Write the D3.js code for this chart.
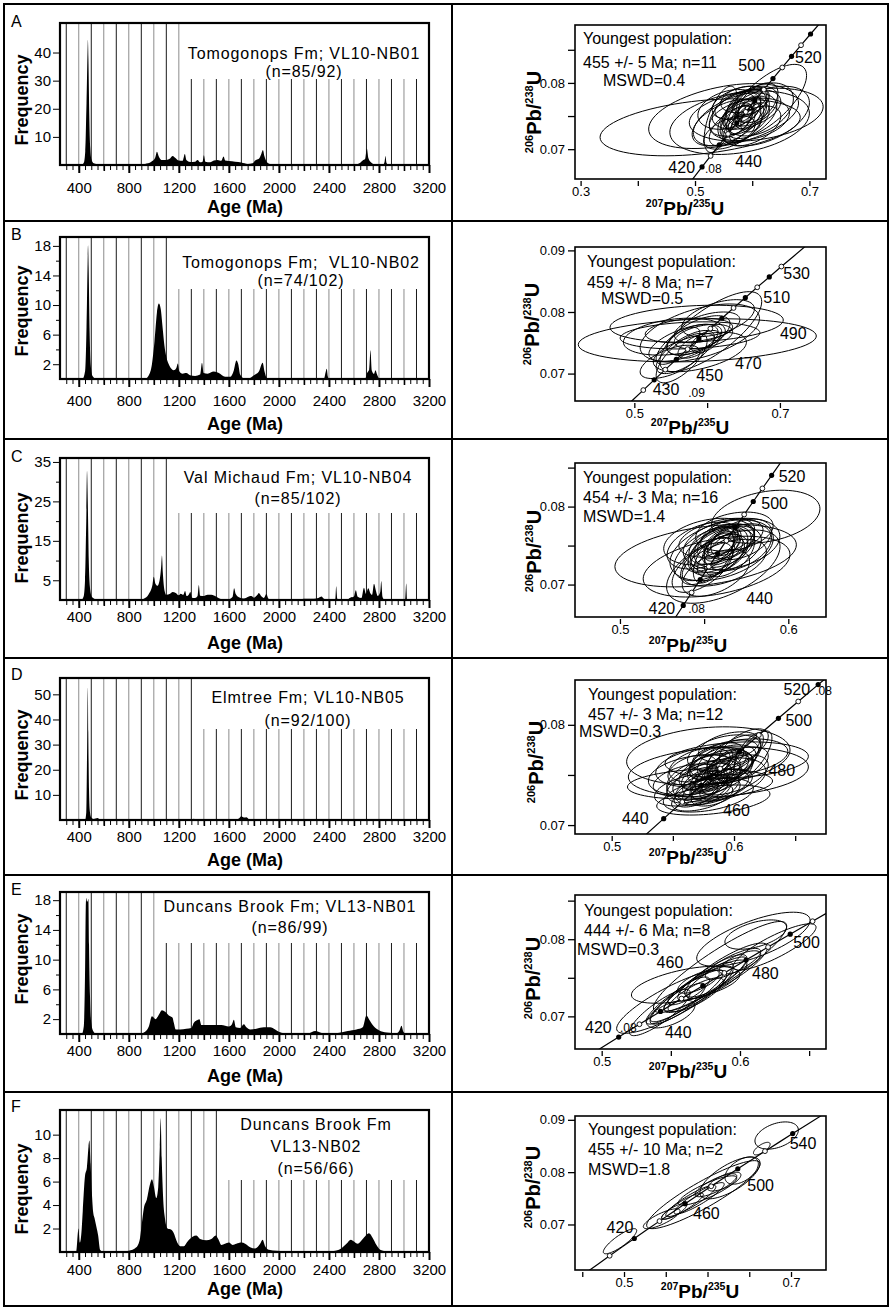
<!DOCTYPE html>
<html>
<head>
<meta charset="utf-8">
<title>Detrital zircon U-Pb ages and concordia diagrams</title>
<script src="https://d3js.org/d3.v7.min.js"></script>
<style>
  body { margin: 0; background: #fff; }
  svg text { font-family: "Liberation Sans", Arial, Helvetica, sans-serif; fill: #000; }
</style>
</head>
<body>
<script>
// ---------------- data: age spectra (left column) ----------------
var panelLetters = ["A", "B", "C", "D", "E", "F"];
var sampleNames = [
  ["Tomogonops Fm; VL10-NB01", "(n=85/92)"],
  ["Tomogonops Fm;  VL10-NB02", "(n=74/102)"],
  ["Val Michaud Fm; VL10-NB04", "(n=85/102)"],
  ["Elmtree Fm; VL10-NB05", "(n=92/100)"],
  ["Duncans Brook Fm; VL13-NB01", "(n=86/99)"],
  ["Duncans Brook Fm", "VL13-NB02", "(n=56/66)"]
];
var ageTicks = [400, 800, 1200, 1600, 2000, 2400, 2800, 3200];
var freqTicks = [[10, 20, 30, 40], [2, 6, 10, 14, 18], [5, 15, 25, 35], [10, 20, 30, 40, 50], [2, 6, 10, 14, 18], [2, 4, 6, 8, 10]];
var freqMinor = [[], [4, 8, 12, 16], [10, 20, 30], [], [4, 8, 12, 16], []];
var freqMax = [50.5, 19.2, 36, 56.5, 19.1, 12.1];
var boxAge = [1200, 1100, 1100, 1300, 1000, 1500];   // last full-height guide line before the label

// probability density curves: [age (Ma), frequency]
var densA = [[250,0],[420,0],[440,0.8],[452,5],[462,22],[470,40],[473,44.5],[477,38],[484,18],[492,6],[502,2],[520,0.6],[560,0.2],[600,0],[880,0],[930,0.4],[980,1.2],[1010,2.5],[1025,4.7],[1040,3],[1060,1.8],[1100,1.8],[1130,2.3],[1150,3.2],[1170,2.6],[1200,1.6],[1230,1.5],[1248,3.9],[1260,1.8],[1290,1.1],[1330,1.2],[1350,1.8],[1370,1.0],[1390,1.2],[1400,3.5],[1412,1.2],[1450,1.0],[1480,1.6],[1510,1.8],[1540,1.5],[1558,3.0],[1570,1.6],[1600,1.4],[1650,1.2],[1700,0.9],[1750,0.4],[1790,0.6],[1810,1.6],[1840,2.2],[1860,4.0],[1872,5.3],[1885,3],[1905,1.0],[1940,0.2],[1990,0],[2600,0],[2640,0.5],[2670,1.6],[2690,2.2],[2703,5.9],[2715,2.5],[2740,0.8],[2770,0.1],[2830,0],[2845,1.2],[2852,3.2],[2860,0.8],[2875,0],[3200,0]];
var densB = [[250,0],[430,0],[450,1],[462,7],[470,15],[474,18.1],[479,15],[486,7],[495,2],[510,0.4],[540,0],[930,0],[960,0.5],[985,2],[1005,5],[1025,9],[1040,10.2],[1055,9.5],[1070,7],[1085,4.5],[1100,3],[1125,1.8],[1160,1.2],[1180,1.5],[1192,2.1],[1205,1.0],[1230,0.7],[1260,0.8],[1290,0.5],[1330,0.4],[1370,0.6],[1385,2.2],[1398,0.8],[1430,0.7],[1480,1.0],[1520,0.8],[1570,0.3],[1610,0.3],[1640,1.2],[1660,2.5],[1675,2.0],[1690,0.6],[1720,0.1],[1760,0.1],[1800,0.5],[1840,1.0],[1870,2.2],[1885,1.0],[1900,0.2],[1920,0],[2360,0],[2375,1.0],[2382,1.4],[2392,0.3],[2400,0],[2690,0],[2705,0.8],[2722,1.3],[2732,3.9],[2742,1.2],[2760,0.7],[2772,1.2],[2785,0.6],[2800,0.1],[2820,0],[3200,0]];
var densC = [[250,0],[420,0],[440,1],[450,5],[460,20],[466,32.7],[472,25],[480,10],[490,3],[505,0.8],[530,0.2],[560,0],[880,0],[920,0.3],[960,1.5],[990,4],[1000,5.9],[1012,4.2],[1030,3.6],[1045,4.8],[1060,9],[1065,11.3],[1072,7],[1085,2.5],[1100,1.3],[1130,1.6],[1150,2.0],[1175,1.8],[1200,1.2],[1215,1.6],[1235,1.3],[1250,2.3],[1262,1.0],[1280,1.4],[1292,2.0],[1305,0.6],[1330,0.5],[1350,1.0],[1360,3.8],[1370,1.1],[1400,1.0],[1430,1.3],[1460,1.3],[1500,0.8],[1540,0.2],[1600,0.2],[1630,0.8],[1642,3.0],[1655,1.5],[1680,0.7],[1720,0.4],[1760,0.9],[1780,1.0],[1800,0.6],[1825,1.2],[1840,1.8],[1858,1.0],[1880,0.5],[1900,1.5],[1915,0.4],[1940,0],[2150,0],[2200,0.3],[2280,0.3],[2320,0.6],[2340,0.9],[2360,0.3],[2390,0],[2450,0],[2458,3.5],[2466,0.4],[2480,0],[2540,0],[2570,0.6],[2600,0.9],[2615,2.5],[2630,0.8],[2660,0.5],[2680,3.1],[2695,1.6],[2715,3.0],[2730,1.8],[2745,1.3],[2760,4.1],[2775,2.4],[2790,1.0],[2810,2.0],[2818,4.8],[2828,0.8],[2845,0],[3010,0],[3018,4.2],[3024,0],[3200,0]];
var densD = [[250,0],[450,0],[460,3],[466,25],[472,52.7],[476,35],[482,12],[490,3],[500,1],[520,0.4],[550,0.8],[570,0.2],[600,0],[690,0.2],[720,0],[1080,0],[1120,0.3],[1150,0],[1300,0],[1320,0.5],[1340,0],[1650,0],[1680,0.6],[1700,1.5],[1720,1.0],[1740,1.1],[1760,0.3],[1780,0],[3200,0]];
var densE = [[250,0],[425,0],[440,1],[450,8],[456,17],[460,18.3],[466,17.8],[472,17.9],[477,18.2],[482,12],[490,5],[500,1.5],[515,0.4],[540,0],[880,0],[930,0.3],[960,1.0],[985,2.4],[1000,2.2],[1015,2.0],[1040,2.6],[1065,3.2],[1090,3.0],[1120,2.5],[1150,2.2],[1160,1.5],[1175,0.6],[1210,0.6],[1260,0.7],[1300,0.8],[1320,1.5],[1340,1.8],[1365,2.0],[1380,1.2],[1420,1.2],[1480,1.2],[1540,1.2],[1600,1.0],[1625,1.3],[1640,1.9],[1655,0.9],[1690,0.8],[1720,1.3],[1740,0.9],[1770,0.6],[1820,0.7],[1880,0.9],[1930,0.9],[1970,0.6],[2000,0.3],[2040,0.1],[2100,0],[2240,0.1],[2290,0.4],[2330,0.2],[2380,0],[2460,0.1],[2550,0.4],[2620,0.6],[2670,0.9],[2700,2.5],[2720,2.0],[2760,1.0],[2800,0.5],[2860,0.2],[2940,0.1],[2965,0.5],[2980,1.1],[2995,0.3],[3020,0],[3200,0]];
var densF = [[250,0],[380,0],[398,2.0],[408,0.8],[420,1.5],[432,3.5],[450,6.5],[465,7.2],[478,9.0],[485,9.5],[495,7.5],[505,5],[515,3.4],[528,2.8],[540,2.2],[555,1.4],[570,0.2],[600,0],[700,0],[800,0.1],[860,0.4],[890,1.2],[905,2.5],[920,3.7],[945,4.5],[970,5.8],[985,6.2],[1000,5.6],[1020,4.6],[1035,5.5],[1048,9],[1055,11.4],[1063,8],[1075,4.5],[1090,2.8],[1110,2.0],[1140,1.9],[1160,1.6],[1180,1.0],[1210,0.5],[1240,0.5],[1270,0.9],[1310,1.3],[1340,1.4],[1370,1.1],[1420,1.0],[1460,1.1],[1495,1.4],[1515,1.1],[1540,0.6],[1570,0.7],[1600,0.8],[1630,0.6],[1660,0.7],[1700,0.8],[1730,0.7],[1770,0.4],[1810,0.3],[1850,0.7],[1870,1.05],[1890,0.5],[1920,0.2],[1980,0.1],[2100,0.05],[2400,0.05],[2480,0.2],[2540,0.7],[2575,1.05],[2600,0.9],[2630,0.7],[2670,1.1],[2720,1.6],[2750,1.2],[2780,0.6],[2810,0.2],[2870,0.05],[2950,0],[3200,0]];
var densities = [densA, densB, densC, densD, densE, densF];

// ---------------- data: concordia diagrams (right column) ----------------
var concAges = [380, 390, 400, 410, 420, 430, 440, 450, 460, 470, 480, 490, 500, 510, 520, 530, 540, 550, 560, 570, 580];
var concX  = [0.4539, 0.4683, 0.4828, 0.4975, 0.5123, 0.5273, 0.5425, 0.5577, 0.5731, 0.5887, 0.6044, 0.6203, 0.6363, 0.6525, 0.6688, 0.6854, 0.7020, 0.7189, 0.7359, 0.7531, 0.7704];
var concY  = [0.06072, 0.06237, 0.06402, 0.06567, 0.06732, 0.06898, 0.07064, 0.07230, 0.07397, 0.07563, 0.07730, 0.07898, 0.08065, 0.08233, 0.08401, 0.08569, 0.08738, 0.08906, 0.09076, 0.09245, 0.09414];
// panel C: concordia as read against that panel's printed 207Pb/235U axis
var concXC = [0.5180, 0.5229, 0.5277, 0.5326, 0.5376, 0.5426, 0.5477, 0.5528, 0.5580, 0.5632, 0.5685, 0.5738, 0.5792, 0.5846, 0.5901, 0.5956, 0.6012, 0.6069, 0.6126, 0.6183, 0.6241];
var concXs = [concX, concX, concXC, concX, concX, concX];

var filledAges = [[420,440,460,480,500,520,540], [430,450,470,490,510,530], [420,440,460,480,500,520], [440,460,480,500,520], [420,440,460,480,500], [420,460,500,540]];
var openAges   = [[430,450,470,490,510,530], [420,440,460,480,500,520,540], [430,450,470,490,510], [450,470,490,510], [430,450,470,490,510], [400,440,480,520]];

var popText = [
  ["Youngest population:", "455 +/- 5 Ma; n=11", "MSWD=0.4"],
  ["Youngest population:", "459 +/- 8 Ma; n=7", "MSWD=0.5"],
  ["Youngest population:", "454 +/- 3 Ma; n=16", "MSWD=1.4"],
  ["Youngest population:", "457 +/- 3 Ma; n=12", "MSWD=0.3"],
  ["Youngest population:", "444 +/- 6 Ma; n=8", "MSWD=0.3"],
  ["Youngest population:", "455 +/- 10 Ma; n=2", "MSWD=1.8"]
];
var ageLabels = [
  [[420,"420"],[420,".08"],[440,"440"],[500,"500"],[520,"520"]],
  [[430,"430"],[430,".09"],[450,"450"],[470,"470"],[490,"490"],[510,"510"],[530,"530"]],
  [[420,"420"],[420,".08"],[440,"440"],[500,"500"],[520,"520"]],
  [[440,"440"],[460,"460"],[480,"480"],[500,"500"],[520,"520"],[520,".08"]],
  [[420,"420"],[420,".08"],[440,"440"],[460,"460"],[480,"480"],[500,"500"]],
  [[420,"420"],[460,"460"],[500,"500"],[540,"540"]]
];

var concXDomain = [[0.2902, 0.729], [0.4185, 0.7633], [0.4733, 0.6224], [0.470, 0.6752], [0.4807, 0.6622], [0.4413, 0.7419]];
var concYDomain = [[0.0655, 0.08874], [0.06555, 0.09055], [0.06584, 0.08559], [0.06911, 0.08447], [0.06577, 0.08573], [0.0613, 0.09073]];
var concXTicks  = [[0.3, 0.4, 0.5, 0.6, 0.7], [0.5, 0.6, 0.7], [0.5, 0.55, 0.6], [0.5, 0.55, 0.6, 0.65], [0.5, 0.55, 0.6, 0.65], [0.45, 0.5, 0.55, 0.6, 0.65, 0.7]];
var concXLabels = [[0.3, 0.5, 0.7], [0.5, 0.7], [0.5, 0.6], [0.5, 0.6], [0.5, 0.6], [0.5, 0.7]];
var concYTicks  = [[0.07, 0.075, 0.08, 0.085], [0.07, 0.08, 0.09], [0.07, 0.075, 0.08, 0.085], [0.07, 0.075, 0.08], [0.07, 0.075, 0.08, 0.085], [0.07, 0.08, 0.09]];
var concYLabels = [[0.07, 0.08], [0.07, 0.08, 0.09], [0.07, 0.08], [0.07, 0.08], [0.07, 0.08], [0.07, 0.08, 0.09]];

// error ellipses: [207Pb/235U, 206Pb/238U, half-width x, half-height y, correlation]
var ellA = [[0.509,0.0733,0.175,0.0043,0.35],[0.550,0.0750,0.131,0.0049,0.40],[0.578,0.0740,0.122,0.0048,0.30],[0.625,0.0772,0.070,0.0056,0.70],[0.607,0.0752,0.117,0.0040,0.30],[0.570,0.0745,0.073,0.0040,0.50],[0.545,0.0745,0.029,0.0050,0.60],[0.590,0.0760,0.060,0.0030,0.40],[0.575,0.0755,0.050,0.0035,0.50],[0.600,0.0765,0.045,0.0030,0.40],[0.585,0.0750,0.040,0.0028,0.50],[0.595,0.0745,0.070,0.0032,0.30],[0.565,0.0735,0.040,0.0030,0.60],[0.580,0.0770,0.050,0.0025,0.40],[0.610,0.0770,0.035,0.0030,0.50],[0.560,0.0760,0.055,0.0030,0.30],[0.590,0.0740,0.030,0.0030,0.60],[0.600,0.0755,0.030,0.0025,0.50],[0.570,0.0765,0.035,0.0020,0.40],[0.585,0.0775,0.040,0.0020,0.30],[0.612,0.0760,0.060,0.0040,0.40],[0.555,0.0740,0.060,0.0035,0.50],[0.595,0.0760,0.020,0.0020,0.50],[0.580,0.0745,0.022,0.0022,0.60],[0.600,0.0735,0.050,0.0030,0.50],[0.620,0.0750,0.080,0.0045,0.45],[0.560,0.0725,0.045,0.0025,0.50],[0.575,0.0750,0.025,0.0020,0.50],[0.590,0.0768,0.025,0.0018,0.40],[0.605,0.0748,0.025,0.0022,0.50],[0.568,0.0752,0.020,0.0020,0.50],[0.582,0.0735,0.035,0.0025,0.50],[0.598,0.0772,0.030,0.0020,0.40],[0.588,0.0757,0.015,0.0015,0.50],[0.572,0.0742,0.028,0.0024,0.60]];
var ellB = [[0.5865,0.0754,0.1635,0.0035,0.20],[0.5856,0.0781,0.1190,0.0030,0.20],[0.5765,0.0762,0.0960,0.0022,0.20],[0.6050,0.0768,0.0700,0.0065,0.75],[0.5900,0.0766,0.0820,0.0047,0.50],[0.5490,0.0719,0.0410,0.0027,0.60],[0.5900,0.0735,0.0640,0.0032,0.50],[0.5880,0.0762,0.0435,0.0032,0.60],[0.5700,0.0750,0.0500,0.0030,0.60],[0.5800,0.0755,0.0350,0.0025,0.50],[0.5950,0.0760,0.0400,0.0020,0.40],[0.5600,0.0745,0.0300,0.0030,0.70],[0.5750,0.0770,0.0600,0.0020,0.30],[0.6000,0.0775,0.0450,0.0025,0.50],[0.5850,0.0745,0.0250,0.0020,0.60],[0.5700,0.0735,0.0400,0.0035,0.70],[0.5550,0.0760,0.0700,0.0030,0.30],[0.6150,0.0790,0.0500,0.0030,0.50],[0.5980,0.0752,0.0200,0.0018,0.50],[0.5650,0.0725,0.0350,0.0040,0.70]];
var ellC = [[0.5509,0.0737,0.0539,0.0040,0.35],[0.5866,0.0787,0.0322,0.0034,0.30],[0.5574,0.0723,0.0436,0.0039,0.40],[0.5614,0.0723,0.0337,0.0047,0.55],[0.5604,0.0744,0.0307,0.0039,0.40],[0.5663,0.0752,0.0287,0.0033,0.30],[0.5555,0.0736,0.0119,0.0034,0.60],[0.5580,0.0745,0.0200,0.0030,0.50],[0.5620,0.0750,0.0180,0.0028,0.40],[0.5540,0.0740,0.0220,0.0035,0.50],[0.5600,0.0760,0.0250,0.0025,0.40],[0.5650,0.0740,0.0150,0.0030,0.50],[0.5520,0.0730,0.0160,0.0030,0.60],[0.5580,0.0755,0.0120,0.0022,0.50],[0.5700,0.0748,0.0200,0.0030,0.40],[0.5500,0.0750,0.0220,0.0030,0.40],[0.5600,0.0735,0.0140,0.0025,0.60],[0.5640,0.0762,0.0160,0.0022,0.40],[0.5570,0.0715,0.0200,0.0030,0.50],[0.5680,0.0768,0.0230,0.0025,0.30],[0.5530,0.0755,0.0270,0.0030,0.30],[0.5620,0.0728,0.0250,0.0030,0.50],[0.5590,0.0748,0.0090,0.0018,0.50],[0.5490,0.0722,0.0180,0.0032,0.60],[0.5720,0.0758,0.0180,0.0026,0.40],[0.5610,0.0745,0.0120,0.0020,0.50],[0.5560,0.0750,0.0150,0.0024,0.40],[0.5660,0.0755,0.0140,0.0022,0.50],[0.5590,0.0738,0.0170,0.0026,0.50],[0.5630,0.0745,0.0210,0.0030,0.40],[0.5545,0.0745,0.0140,0.0028,0.60],[0.5600,0.0752,0.0100,0.0016,0.50]];
var ellD = [[0.5790,0.0769,0.0668,0.0029,0.20],[0.5872,0.0753,0.0736,0.0025,0.20],[0.5722,0.0741,0.0593,0.0015,0.20],[0.6022,0.0765,0.0586,0.0018,0.20],[0.6050,0.0768,0.0390,0.0018,0.30],[0.5790,0.0730,0.0368,0.0017,0.40],[0.5831,0.0725,0.0463,0.0015,0.40],[0.6153,0.0770,0.0157,0.0024,0.70],[0.5750,0.0745,0.0300,0.0020,0.50],[0.5800,0.0750,0.0350,0.0022,0.50],[0.5850,0.0755,0.0300,0.0020,0.50],[0.5900,0.0760,0.0280,0.0020,0.50],[0.5950,0.0765,0.0250,0.0020,0.50],[0.5700,0.0740,0.0250,0.0018,0.50],[0.5650,0.0735,0.0300,0.0016,0.40],[0.6000,0.0770,0.0220,0.0020,0.60],[0.5880,0.0745,0.0380,0.0022,0.40],[0.5760,0.0758,0.0400,0.0020,0.30],[0.5820,0.0738,0.0300,0.0018,0.50],[0.5920,0.0772,0.0300,0.0018,0.40],[0.5680,0.0750,0.0380,0.0020,0.30],[0.5980,0.0750,0.0300,0.0020,0.50],[0.5780,0.0735,0.0200,0.0015,0.50],[0.5860,0.0765,0.0220,0.0017,0.50],[0.5940,0.0757,0.0180,0.0016,0.50],[0.5720,0.0760,0.0250,0.0017,0.40],[0.6080,0.0778,0.0200,0.0018,0.60],[0.5620,0.0745,0.0280,0.0016,0.40],[0.5830,0.0748,0.0150,0.0014,0.50],[0.5900,0.0740,0.0250,0.0016,0.50],[0.5740,0.0728,0.0250,0.0014,0.50],[0.6030,0.0760,0.0250,0.0018,0.50],[0.5960,0.0778,0.0250,0.0015,0.40],[0.5690,0.0732,0.0180,0.0014,0.50],[0.5810,0.0762,0.0180,0.0016,0.50],[0.5850,0.0733,0.0200,0.0014,0.50],[0.6120,0.0772,0.0120,0.0020,0.70],[0.5660,0.0755,0.0200,0.0015,0.40],[0.5850,0.0750,0.0120,0.0012,0.50],[0.5780,0.0745,0.0140,0.0012,0.50],[0.5920,0.0755,0.0130,0.0013,0.50],[0.5800,0.0758,0.0160,0.0013,0.40],[0.5880,0.0738,0.0160,0.0013,0.50],[0.5720,0.0748,0.0150,0.0013,0.50],[0.5960,0.0762,0.0140,0.0014,0.50],[0.5840,0.0742,0.0100,0.0011,0.50],[0.5900,0.0765,0.0120,0.0012,0.50],[0.5760,0.0738,0.0120,0.0012,0.50],[0.6000,0.0758,0.0150,0.0014,0.50],[0.5700,0.0742,0.0120,0.0012,0.50]];
var ellE = [[0.6097,0.0800,0.0410,0.0035,0.70],[0.5607,0.0741,0.0392,0.0024,0.55],[0.5506,0.0719,0.0398,0.0041,0.85],[0.5856,0.0764,0.0482,0.0059,0.90],[0.5499,0.0703,0.0175,0.0018,0.60],[0.6114,0.0806,0.0223,0.0019,0.50],[0.5650,0.0730,0.0300,0.0040,0.90],[0.5700,0.0735,0.0250,0.0030,0.85],[0.5600,0.0725,0.0280,0.0035,0.90],[0.5750,0.0742,0.0300,0.0035,0.90],[0.5800,0.0750,0.0250,0.0030,0.85],[0.5550,0.0718,0.0200,0.0025,0.85],[0.5900,0.0760,0.0300,0.0035,0.85],[0.5950,0.0768,0.0200,0.0020,0.80],[0.5680,0.0728,0.0200,0.0022,0.80],[0.5420,0.0705,0.0220,0.0030,0.85],[0.5830,0.0748,0.0220,0.0025,0.80],[0.6000,0.0770,0.0150,0.0015,0.70],[0.5700,0.0745,0.0150,0.0015,0.70],[0.6250,0.0790,0.0300,0.0030,0.85],[0.5630,0.0733,0.0150,0.0018,0.80]];
var ellF = [[0.6828,0.0870,0.0260,0.0026,0.40],[0.6409,0.0803,0.0200,0.0026,0.50],[0.5950,0.0757,0.0679,0.0065,0.90],[0.6269,0.0789,0.0360,0.0040,0.70],[0.4952,0.0668,0.0200,0.0024,0.85],[0.5451,0.0711,0.0220,0.0019,0.80],[0.5900,0.0750,0.0300,0.0030,0.90],[0.6000,0.0765,0.0350,0.0028,0.85],[0.5800,0.0745,0.0300,0.0030,0.90],[0.6100,0.0775,0.0250,0.0022,0.80],[0.5700,0.0735,0.0250,0.0025,0.90],[0.6200,0.0782,0.0200,0.0018,0.70],[0.6650,0.0845,0.0100,0.0012,0.70],[0.5600,0.0725,0.0150,0.0015,0.80]];
var ellipses = [ellA, ellB, ellC, ellD, ellE, ellF];

// ---------------- layout ----------------
var W = 891, H = 1309;
var rowLines = [221, 439, 658, 875, 1092];
var letterY = [27, 240, 462, 680, 895, 1112];

var histLeft = 60, histRight = 429, histH = 142;
var histTop = [23, 237, 458, 678, 892, 1110];
var labelBottom = [79, 289, 513, 729, 943, 1180];
var nameX = [304, 301, 298, 308, 290, 316];
var nameY = [[59, 77], [268, 286], [483, 504], [703, 726], [912, 933], [1130, 1152, 1174]];
var ageTickLabelOff = [28, 27, 22, 22, 22, 23];
var ageTitleY = [213, 430, 649, 866, 1082, 1295];
var freqTitleY = [100, 311, 538, 755, 959, 1189];

var concLeft = 575, concRight = 826, concH = 154;
var concTop = [25, 247, 463, 680, 895, 1116];
var popPos = [
  [[583, 44], [583, 68], [603, 85.5]],
  [[587, 267], [587, 288], [601, 304]],
  [[583, 483], [583, 503], [583, 521.5]],
  [[588, 700], [588, 720], [579, 736.5]],
  [[584, 916], [584, 935.5], [577, 955]],
  [[588, 1135], [588, 1155], [588, 1175]]
];
// offset of each age label from its concordia tick: [dx, dy, anchor]
var ageLabelOff = [
  [[-7, 6.5, "end"], [3, 6.5, "start"], [16, 22, "start"], [-8, -7.6, "end"], [3.5, 7, "start"]],
  [[-1.5, 15, "start"], [34, 17, "start"], [20, 22, "start"], [36, 30, "start"], [58, 21, "start"], [18, 5, "start"], [14, 2, "start"]],
  [[-8, 8.5, "end"], [5, 8, "start"], [46, 24, "start"], [8, 7, "start"], [7, 7, "start"]],
  [[-15, 5.6, "end"], [22, 31, "start"], [29, 24, "start"], [7, 8, "start"], [-8, 10, "end"], [-3, 10, "start"]],
  [[-7, -4, "end"], [1.3, -5, "start"], [4.5, 27, "start"], [-19.5, -17.4, "end"], [6, 19, "start"], [3, 14, "start"]],
  [[-1, -5, "end"], [8, 15, "start"], [9.5, 22, "start"], [-3, 15.5, "start"]]
];
var xTitlePos = [[685, 215], [690, 434], [688, 652], [688, 864], [688, 1078], [700, 1298]];
var yTitlePos = [[541, 112], [539, 324], [541, 551], [543, 762], [540, 978], [540, 1187]];

var svg = d3.select("body").append("svg").attr("width", W).attr("height", H);
var defs = svg.append("defs");

// ---------------- figure frame ----------------
svg.append("rect").attr("x", 4).attr("y", 4).attr("width", 884).attr("height", 1302)
  .attr("fill", "none").attr("stroke", "#000").attr("stroke-width", 2);
svg.append("line").attr("x1", 452).attr("x2", 452).attr("y1", 4).attr("y2", 1306)
  .attr("stroke", "#000").attr("stroke-width", 2);
svg.selectAll(".rowline").data(rowLines).enter().append("line")
  .attr("x1", 4).attr("x2", 888).attr("y1", d => d).attr("y2", d => d)
  .attr("stroke", "#000").attr("stroke-width", 2);
svg.selectAll(".letter").data(panelLetters).enter().append("text")
  .attr("x", 11).attr("y", (d, i) => letterY[i]).attr("font-size", 16).text(d => d);

function styleAxis(g, size) {
  g.select(".domain").remove();
  g.selectAll("line").attr("stroke", "#000");
  g.selectAll("text").attr("font-size", size).attr("fill", "#000")
    .style("font-family", "'Liberation Sans', Arial, sans-serif");
  g.attr("font-family", null);
}

// ---------------- age spectra ----------------
function drawHist(i) {
  var top = histTop[i], bottom = top + histH;
  var x = d3.scaleLinear().domain([250, 3200]).range([histLeft, histRight]);
  var y = d3.scaleLinear().domain([0, freqMax[i]]).range([bottom, top]);
  var g = svg.append("g");

  // guide lines every 100 Ma, cut short below the sample label
  g.selectAll(".guide").data(d3.range(300, 3200, 100)).enter().append("line")
    .attr("x1", d => x(d)).attr("x2", d => x(d))
    .attr("y1", bottom).attr("y2", d => d <= boxAge[i] ? top : labelBottom[i])
    .attr("stroke", d => d % 200 === 0 ? "#8c8c8c" : "#1a1a1a")
    .attr("stroke-width", 1);

  g.selectAll(".name").data(sampleNames[i]).enter().append("text")
    .attr("x", nameX[i]).attr("y", (d, k) => nameY[i][k])
    .attr("text-anchor", "middle").attr("font-size", 16)
    .attr("letter-spacing", 0.9)
    .style("white-space", "pre").text(d => d);

  var area = d3.area().x(d => x(d[0])).y0(bottom).y1(d => y(d[1])).curve(d3.curveMonotoneX);
  g.append("path").datum(densities[i]).attr("d", area).attr("fill", "#000");

  g.append("rect").attr("x", histLeft).attr("y", top)
    .attr("width", histRight - histLeft).attr("height", histH)
    .attr("fill", "none").attr("stroke", "#000").attr("stroke-width", 2.2);

  // age axis: 50 Ma, 200 Ma and labelled 400 Ma ticks
  var gx1 = g.append("g").attr("transform", "translate(0," + bottom + ")")
    .call(d3.axisBottom(x).tickValues(d3.range(300, 3201, 50)).tickSize(5).tickFormat(""));
  styleAxis(gx1, 15);
  var gx2 = g.append("g").attr("transform", "translate(0," + bottom + ")")
    .call(d3.axisBottom(x).tickValues(d3.range(600, 3201, 400)).tickSize(6).tickFormat(""));
  styleAxis(gx2, 15);
  gx2.selectAll("line").attr("stroke-width", 1.6);
  var gx3 = g.append("g").attr("transform", "translate(0," + bottom + ")")
    .call(d3.axisBottom(x).tickValues(ageTicks).tickSize(8)
      .tickPadding(ageTickLabelOff[i] - 8 - 10.65).tickFormat(d3.format("d")));
  styleAxis(gx3, 15);
  gx3.selectAll("line").attr("stroke-width", 2);

  var gy1 = g.append("g").attr("transform", "translate(" + histLeft + ",0)")
    .call(d3.axisLeft(y).tickValues(freqMinor[i]).tickSize(4).tickFormat(""));
  styleAxis(gy1, 15);
  var gy2 = g.append("g").attr("transform", "translate(" + histLeft + ",0)")
    .call(d3.axisLeft(y).tickValues(freqTicks[i]).tickSize(7).tickPadding(2).tickFormat(d3.format("d")));
  styleAxis(gy2, 15);

  g.append("text").attr("x", 245).attr("y", ageTitleY[i]).attr("text-anchor", "middle")
    .attr("font-size", 18).attr("font-weight", "bold").text("Age (Ma)");
  g.append("text").attr("transform", "translate(28," + freqTitleY[i] + ") rotate(-90)")
    .attr("text-anchor", "middle").attr("font-size", 18).attr("font-weight", "bold").text("Frequency");
}

// isotope ratio title with superscript mass numbers
function ratioTitle(sel, a, b, big, small) {
  sel.attr("font-weight", "bold").attr("text-anchor", "middle");
  sel.append("tspan").attr("font-size", small).attr("dy", -big * 0.42).text(a);
  sel.append("tspan").attr("font-size", big).attr("dy", big * 0.42).text("Pb/");
  sel.append("tspan").attr("font-size", small).attr("dy", -big * 0.42).text(b);
  sel.append("tspan").attr("font-size", big).attr("dy", big * 0.42).text("U");
}

// ---------------- concordia diagrams ----------------
function drawConc(i) {
  var top = concTop[i], bottom = top + concH;
  var x = d3.scaleLinear().domain(concXDomain[i]).range([concLeft, concRight]);
  var y = d3.scaleLinear().domain(concYDomain[i]).range([bottom, top]);
  var g = svg.append("g");

  defs.append("clipPath").attr("id", "clip" + i).append("rect")
    .attr("x", concLeft).attr("y", top).attr("width", concRight - concLeft).attr("height", concH);
  var inner = g.append("g").attr("clip-path", "url(#clip" + i + ")");

  var ring = d3.range(72).map(k => k / 72 * 2 * Math.PI);
  var line = d3.line().x(p => x(p[0])).y(p => y(p[1]));
  var closed = d3.line().x(p => x(p[0])).y(p => y(p[1])).curve(d3.curveLinearClosed);
  inner.selectAll(".ell").data(ellipses[i]).enter().append("path")
    .attr("d", e => closed(ring.map(t => [
      e[0] + e[2] * Math.cos(t),
      e[1] + e[3] * (e[4] * Math.cos(t) + Math.sqrt(1 - e[4] * e[4]) * Math.sin(t))
    ])))
    .attr("fill", "none").attr("stroke", "#000").attr("stroke-width", 1);

  var cx = concXs[i];
  inner.append("path").datum(concAges.map((a, k) => [cx[k], concY[k]]))
    .attr("d", line).attr("fill", "none").attr("stroke", "#000").attr("stroke-width", 1.2);

  function at(age) { var k = concAges.indexOf(age); return [x(cx[k]), y(concY[k])]; }
  inner.selectAll(".open").data(openAges[i]).enter().append("circle")
    .attr("cx", a => at(a)[0]).attr("cy", a => at(a)[1]).attr("r", 2.4)
    .attr("fill", "#fff").attr("stroke", "#000").attr("stroke-width", 0.9);
  inner.selectAll(".filled").data(filledAges[i]).enter().append("circle")
    .attr("cx", a => at(a)[0]).attr("cy", a => at(a)[1]).attr("r", 2.6).attr("fill", "#000");

  g.selectAll(".agelab").data(ageLabels[i]).enter().append("text")
    .attr("x", (d, k) => at(d[0])[0] + ageLabelOff[i][k][0])
    .attr("y", (d, k) => at(d[0])[1] + ageLabelOff[i][k][1])
    .attr("text-anchor", (d, k) => ageLabelOff[i][k][2])
    .attr("font-size", d => d[1].charAt(0) === "." ? 12 : 16).text(d => d[1]);

  g.selectAll(".pop").data(popText[i]).enter().append("text")
    .attr("x", (d, k) => popPos[i][k][0]).attr("y", (d, k) => popPos[i][k][1])
    .attr("font-size", 16).text(d => d);

  g.append("rect").attr("x", concLeft).attr("y", top)
    .attr("width", concRight - concLeft).attr("height", concH)
    .attr("fill", "none").attr("stroke", "#000").attr("stroke-width", 1.6);

  var xl = concXLabels[i], yl = concYLabels[i];
  var gx = g.append("g").attr("transform", "translate(0," + (bottom + 2) + ")")
    .call(d3.axisBottom(x).tickValues(concXTicks[i]).tickSize(5).tickPadding(1)
      .tickFormat(d => xl.indexOf(d) >= 0 ? d3.format(".1f")(d) : ""));
  styleAxis(gx, 13);
  gx.selectAll("line").attr("stroke-width", 1.3);
  var gy = g.append("g").attr("transform", "translate(" + concLeft + ",0)")
    .call(d3.axisLeft(y).tickValues(concYTicks[i]).tickSize(7).tickPadding(3)
      .tickFormat(d => yl.indexOf(d) >= 0 ? d3.format(".2f")(d) : ""));
  styleAxis(gy, 13);
  gy.selectAll("line").attr("stroke-width", 1.3);

  ratioTitle(g.append("text").attr("x", xTitlePos[i][0]).attr("y", xTitlePos[i][1]), "207", "235", 19, 10.5);
  ratioTitle(g.append("text").attr("transform", "translate(" + yTitlePos[i][0] + "," + yTitlePos[i][1] + ") rotate(-90)"), "206", "238", 20, 11);
}

for (var i = 0; i < 6; i++) { drawHist(i); drawConc(i); }
</script>
</body>
</html>
